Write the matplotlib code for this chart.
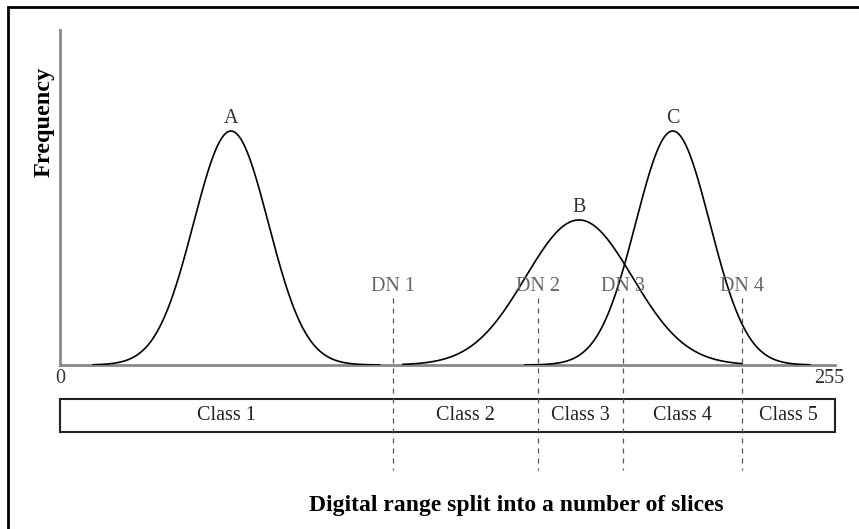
import numpy as np
import matplotlib
matplotlib.use("Agg")
import matplotlib.pyplot as plt
from matplotlib.patches import Rectangle

plt.rcParams["font.family"] = ["Liberation Serif", "DejaVu Serif"]

# Class histograms: label, mean DN, spread, relative peak height, drawn extent
peak_names = ["A", "B", "C"]
peak_means = [56.7, 172.1, 203.2]
peak_sigmas = [12.4, 17.7, 12.3]
peak_heights = [1.0, 0.62, 1.0]
peak_extents = [(11, 106), (113.7, 226.1), (154.2, 248.7)]

# Density-slice thresholds and the resulting classes
dn_labels = ["DN 1", "DN 2", "DN 3", "DN 4"]
dn_values = [110.4, 158.5, 186.7, 226.1]
class_labels = ["Class 1", "Class 2", "Class 3", "Class 4", "Class 5"]
dn_min, dn_max = 0, 255

FS = 14.5
W, H = 859, 529
fig = plt.figure(figsize=(W / 100, H / 100), dpi=100)
ax = fig.add_axes([60 / W, 1 - 365 / H, 775 / W, 335 / H])
ax.set_xlim(0, 257)
ax.set_ylim(0, 335 / 234)

for name, mu, sd, h, (lo, hi) in zip(peak_names, peak_means, peak_sigmas,
                                     peak_heights, peak_extents):
    x = np.linspace(lo, hi, 400)
    y = h * np.exp(-0.5 * ((x - mu) / sd) ** 2)
    ax.plot(x, y, color="black", lw=1.2, zorder=3)
    ax.annotate(name, (mu, h), xytext=(0, 6), textcoords="offset points",
                ha="center", va="baseline", fontsize=FS, color="#333333")

# box split into classes, sitting under the axis
box_top, box_bot = -0.145, -0.286
edges = [dn_min] + dn_values + [dn_max + 2]
ax.add_patch(Rectangle((edges[0], box_bot), edges[-1] - edges[0],
                       box_top - box_bot, fill=False, ec="#222222", lw=1.5,
                       clip_on=False))
for lab, a, b in zip(class_labels, edges[:-1], edges[1:]):
    ax.text((a + b) / 2, (box_top + box_bot) / 2, lab, ha="center",
            va="center", fontsize=FS, color="#222222")

for lab, v in zip(dn_labels, dn_values):
    ax.plot([v, v], [0.286, -0.449], ls=(0, (4, 4)), lw=0.9,
            color="#555555", clip_on=False, zorder=2)
    ax.text(v, 0.316, lab, ha="center", va="baseline", fontsize=FS,
            color="#666666")

ax.text(dn_min, -0.017, str(dn_min), ha="center", va="top", fontsize=FS,
        color="#333333")
ax.text(dn_max, -0.017, str(dn_max), ha="center", va="top", fontsize=FS,
        color="#333333")

for side in ("top", "right"):
    ax.spines[side].set_visible(False)
for side in ("left", "bottom"):
    ax.spines[side].set_color("#888888")
    ax.spines[side].set_linewidth(2)
ax.set_xticks([])
ax.set_yticks([])

fig.text(44 / W, 1 - 122 / H, "Frequency", rotation=90, ha="center",
         va="center", fontsize=17.5, fontweight="bold")
fig.text(516 / W, 1 - 511 / H, "Digital range split into a number of slices",
         ha="center", va="baseline", fontsize=17, fontweight="bold")

# frame around the whole drawing
fig.patches.append(Rectangle((8 / W, -0.1), 1.2, 1.1 - 7 / H, fill=False,
                             ec="black", lw=2, transform=fig.transFigure))

fig.savefig("out.png", dpi=100)
